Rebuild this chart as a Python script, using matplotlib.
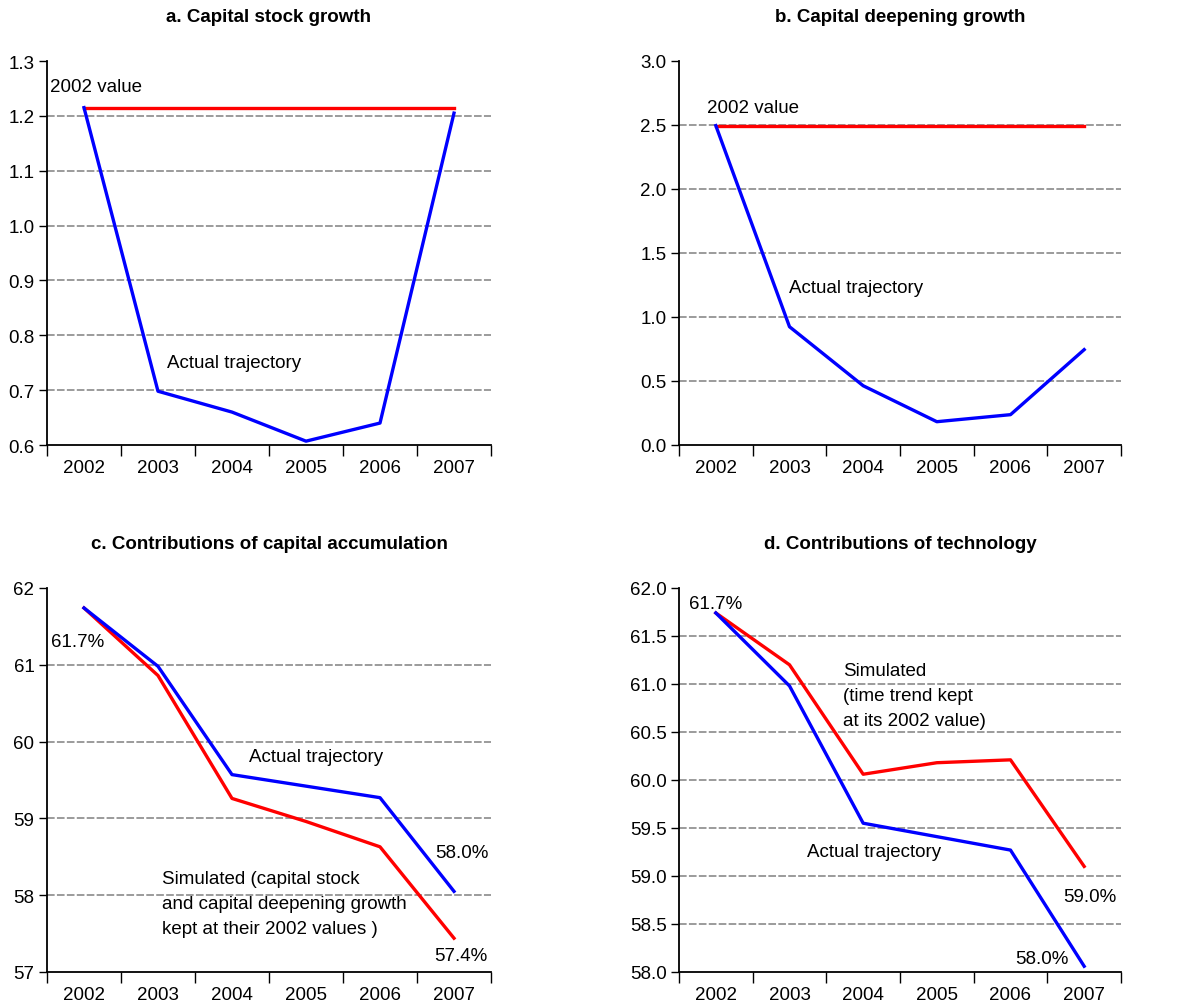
import matplotlib

matplotlib.use("Agg")
import matplotlib.pyplot as plt  # noqa: E402
import numpy as np  # noqa: E402

plt.rcParams["font.family"] = ["Liberation Sans", "DejaVu Sans"]

years = ["2002", "2003", "2004", "2005", "2006", "2007"]

# a. capital stock growth
stock_actual = [1.215, 0.698, 0.660, 0.607, 0.640, 1.205]
stock_2002 = [1.215] * 6
# b. capital deepening growth
deep_actual = [2.495, 0.924, 0.463, 0.182, 0.237, 0.745]
deep_2002 = [2.495] * 6
# c. contributions of capital accumulation
cap_actual = [61.74, 60.98, 59.57, 59.42, 59.27, 58.05]
cap_sim = [61.74, 60.86, 59.26, 58.96, 58.63, 57.44]
# d. contributions of technology
tech_actual = [61.74, 60.98, 59.55, 59.41, 59.27, 58.06]
tech_sim = [61.74, 61.20, 60.06, 60.18, 60.21, 59.10]

RED = "#FF0000"
BLUE = "#0000FF"
FS = 13.5

W, H = 1203, 1004
fig = plt.figure(figsize=(W / 100, H / 100), dpi=100)


def make_ax(left, top, right, bottom, title, yticks, ylabels):
    ax = fig.add_axes([left / W, 1 - bottom / H, (right - left) / W, (bottom - top) / H])
    x = np.arange(len(years))
    ax.set_xlim(-0.5, len(years) - 0.5)
    ax.set_ylim(yticks[0], yticks[-1])
    # tick marks sit between the years, labels at the year centres
    ax.set_xticks(np.arange(-0.5, len(years), 1.0))
    ax.set_xticklabels([])
    ax.set_xticks(x, minor=True)
    ax.set_xticklabels(years, minor=True, fontsize=FS)
    ax.tick_params(axis="x", which="major", direction="out", length=8, width=1)
    ax.tick_params(axis="x", which="minor", length=0, pad=10)
    ax.set_yticks(yticks)
    ax.set_yticklabels(ylabels, fontsize=FS)
    ax.tick_params(axis="y", direction="out", length=6, width=1, pad=3)
    for s in ("top", "right"):
        ax.spines[s].set_visible(False)
    for s in ("left", "bottom"):
        ax.spines[s].set_linewidth(1.3)
    ax.hlines(yticks[1:-1], -0.5, len(years) - 0.5, colors="#808080",
              linestyles=(0, (5, 1.5)), linewidth=1.1, zorder=1)
    ax.text(0.5, 1.115, title, transform=ax.transAxes, ha="center", va="center",
            fontsize=13.5, fontweight="bold")
    return ax, x


# a
ax, x = make_ax(47, 62, 491, 446, "a. Capital stock growth",
                [0.6, 0.7, 0.8, 0.9, 1.0, 1.1, 1.2, 1.3],
                ["0.6", "0.7", "0.8", "0.9", "1.0", "1.1", "1.2", "1.3"])
ax.plot(x, stock_2002, color=RED, lw=2.4, zorder=3)
ax.plot(x, stock_actual, color=BLUE, lw=2.4, zorder=3)
ax.text(-0.46, 1.253, "2002 value", fontsize=FS, va="center")
ax.text(1.12, 0.751, "Actual trajectory", fontsize=FS, va="center")

# b
ax, x = make_ax(679, 62, 1121, 446, "b. Capital deepening growth",
                [0.0, 0.5, 1.0, 1.5, 2.0, 2.5, 3.0],
                ["0.0", "0.5", "1.0", "1.5", "2.0", "2.5", "3.0"])
ax.plot(x, deep_2002, color=RED, lw=2.4, zorder=3)
ax.plot(x, deep_actual, color=BLUE, lw=2.4, zorder=3)
ax.text(-0.12, 2.64, "2002 value", fontsize=FS, va="center")
ax.text(0.99, 1.23, "Actual trajectory", fontsize=FS, va="center")

# c
ax, x = make_ax(47, 589, 491, 973, "c. Contributions of capital accumulation",
                [57, 58, 59, 60, 61, 62], ["57", "58", "59", "60", "61", "62"])
ax.plot(x, cap_sim, color=RED, lw=2.4, zorder=3)
ax.plot(x, cap_actual, color=BLUE, lw=2.4, zorder=3)
ax.text(-0.45, 61.30, "61.7%", fontsize=FS, va="center")
ax.text(2.23, 59.80, "Actual trajectory", fontsize=FS, va="center")
ax.text(4.74, 58.55, "58.0%", fontsize=FS, va="center")
ax.text(1.05, 57.89, "Simulated (capital stock\nand capital deepening growth\nkept at their 2002 values )",
        fontsize=FS, va="center", linespacing=1.62)
ax.text(4.73, 57.21, "57.4%", fontsize=FS, va="center")

# d
ax, x = make_ax(679, 589, 1121, 973, "d. Contributions of technology",
                [58.0, 58.5, 59.0, 59.5, 60.0, 60.5, 61.0, 61.5, 62.0],
                ["58.0", "58.5", "59.0", "59.5", "60.0", "60.5", "61.0", "61.5", "62.0"])
ax.plot(x, tech_sim, color=RED, lw=2.4, zorder=3)
ax.plot(x, tech_actual, color=BLUE, lw=2.4, zorder=3)
ax.text(-0.36, 61.84, "61.7%", fontsize=FS, va="center")
ax.text(1.73, 60.88, "Simulated\n(time trend kept\nat its 2002 value)",
        fontsize=FS, va="center", linespacing=1.62)
ax.text(1.24, 59.25, "Actual trajectory", fontsize=FS, va="center")
ax.text(4.72, 58.79, "59.0%", fontsize=FS, va="center")
ax.text(4.06, 58.14, "58.0%", fontsize=FS, va="center")

fig.savefig("out.png", dpi=100)
